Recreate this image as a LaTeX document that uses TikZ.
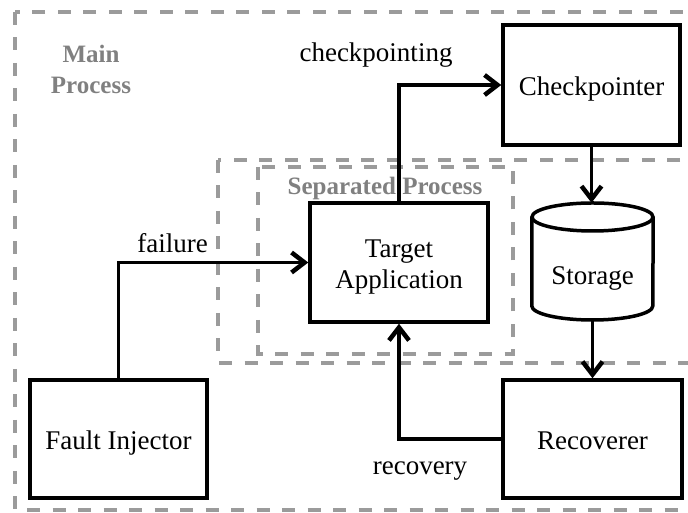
\documentclass[tikz,border=0pt]{standalone}
\usepackage{fontspec}
\setmainfont{Liberation Serif}
\usetikzlibrary{arrows.meta}
\definecolor{procgray}{RGB}{155,155,155}
\definecolor{labelgray}{RGB}{128,128,128}
\begin{document}
\begin{tikzpicture}[x=1pt,y=1pt,
  every node/.style={font=\fontsize{27}{31}\selectfont, inner sep=0pt},
  block/.style={draw, line width=3.5pt, minimum width=178pt, minimum height=118pt, align=center},
  oneline/.style={text height=24pt, text depth=3pt},
  proc/.style={draw=procgray, line width=3.5pt, dash pattern=on 13pt off 12.5pt},
  proclabel/.style={text=labelgray, font=\fontsize{25}{31}\selectfont\bfseries, align=center},
  flow/.style={line width=3.5pt, -{Straight Barb[length=13pt,width=20pt,line width=4.5pt]}},
  plain/.style={line width=3.5pt}
]
\useasboundingbox (0,0) rectangle (688,513);
\clip (0,0) rectangle (688,513);

% process boundaries
\draw[proc] (15,501) rectangle (705,3);
\draw[proc] (218,353) rectangle (705,150);
\draw[proc] (258,346) rectangle (513,159);
\node[proclabel] (mainlbl) at (91,444) {Main\\Process};
\node[proclabel, anchor=base] (seplbl) at (385,318) {Separated Process};

% components
\node[block, oneline, minimum width=177pt, minimum height=120pt] (ckpt) at (591.5,428) {Checkpointer};
\node[block, minimum height=119pt] (target) at (399,250.5) {\rule{0pt}{27pt}Target\\Application};
\node[block, oneline, minimum width=177pt] (fault) at (118.5,74) {Fault Injector};
\node[block, oneline, minimum width=179pt] (recov) at (592.5,74) {Recoverer};

% storage cylinder
\node[minimum width=121pt, minimum height=117pt] (stor) at (592.5,251.5) {};
\draw[plain] (592.5,296) ellipse [x radius=60.5pt, y radius=14pt];
\draw[plain] (stor.west |- 0,296) -- (stor.west |- 0,207)
  arc[start angle=180, end angle=360, x radius=60.5pt, y radius=14pt]
  -- (stor.east |- 0,296);
\node[oneline] (storlbl) at (592.5,239) {Storage};

% data flow
\draw[flow] (fault.north) |- (target.west);
\draw[flow] (target.north) |- (ckpt.west);
\draw[flow] (recov.west) -| (target.south);
\draw[flow] (ckpt.south) -- (ckpt.south |- stor.north);
\draw[flow] (stor.south) -- (stor.south |- recov.north);

% flow labels
\node[anchor=base] (lblckpt) at (376,451) {checkpointing};
\node[anchor=base] (lblfail) at (172.5,260) {failure};
\node[anchor=base] (lblrec) at (420,38) {recovery};
\end{tikzpicture}
\end{document}
